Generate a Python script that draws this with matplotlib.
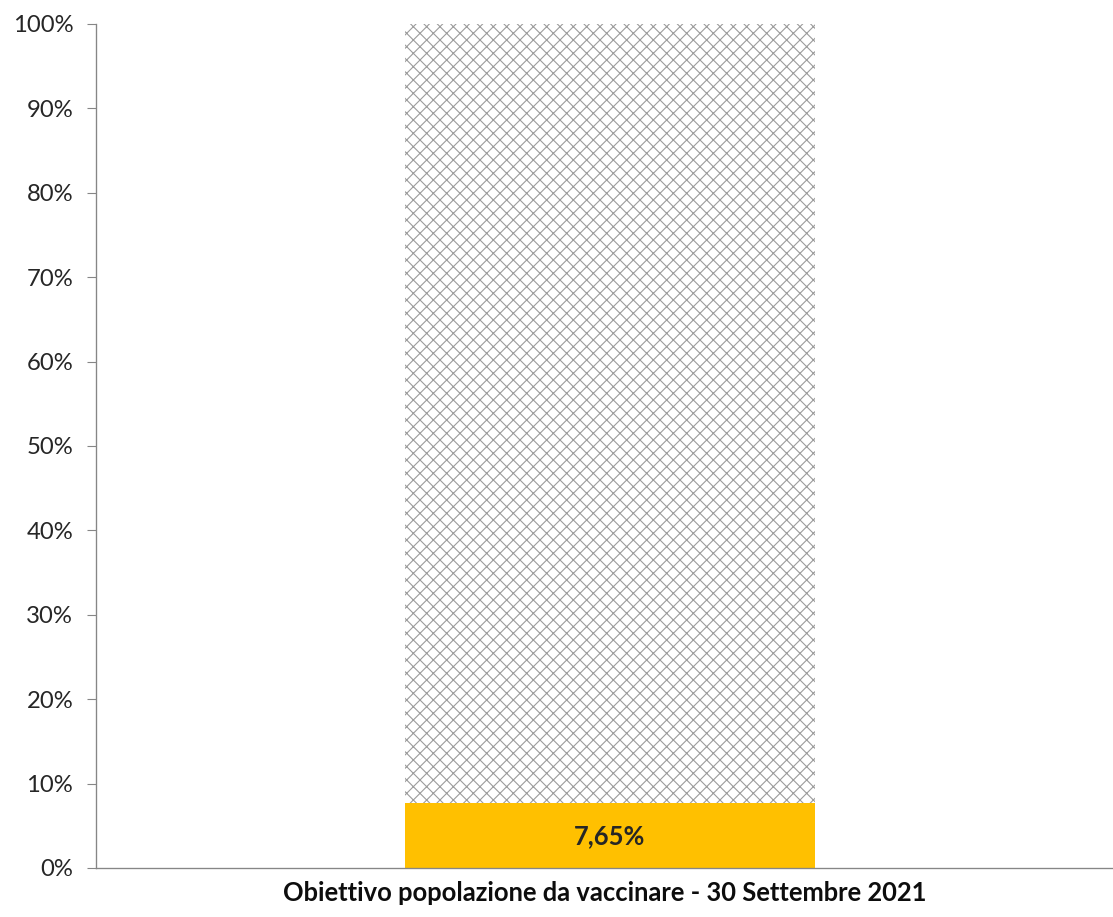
import matplotlib
matplotlib.use("Agg")
import matplotlib.pyplot as plt
from matplotlib.ticker import PercentFormatter

categories = ["Obiettivo popolazione da vaccinare - 30 Settembre 2021"]
vaccinated = [7.65]
remaining = [100 - 7.65]
yticks = [0, 10, 20, 30, 40, 50, 60, 70, 80, 90, 100]
value_labels = ["7,65%"]

DPI = 80
plt.rcParams['font.family'] = ['Lato', 'DejaVu Sans']
plt.rcParams['hatch.linewidth'] = 1.0

fig = plt.figure(figsize=(1113 / DPI, 917 / DPI), dpi=DPI)
ax = fig.add_axes([96 / 1113, 1 - 868 / 917, 1 - 96 / 1113, (868 - 24) / 917])

x = [0]
ax.bar(x, vaccinated, width=0.806, color='#FFC000', linewidth=0)
ax.bar(x, remaining, bottom=vaccinated, width=0.806, color='white',
       edgecolor='#9c9c9c', hatch='xx', linewidth=0)

for xi, v, lab in zip(x, vaccinated, value_labels):
    ax.text(xi, v / 2, lab, ha='center', va='center', fontsize=23,
            fontweight='bold', color='#262626')

ax.set_xlim(-1.01, 0.99)
ax.set_ylim(0, 100)
ax.set_yticks(yticks)
ax.yaxis.set_major_formatter(PercentFormatter(decimals=0))
ax.tick_params(axis='y', direction='out', length=8, width=1, color='#868686',
               labelsize=21.5, labelcolor='#262626', pad=12.5)
ax.set_xticks([])
ax.set_xlabel(categories[0], fontsize=23, fontweight='bold', color='#0d0d0d', labelpad=12)

for s in ['top', 'right']:
    ax.spines[s].set_visible(False)
for s in ['left', 'bottom']:
    ax.spines[s].set_color('#868686')
    ax.spines[s].set_linewidth(1.2)

fig.savefig('out.png', dpi=DPI)
